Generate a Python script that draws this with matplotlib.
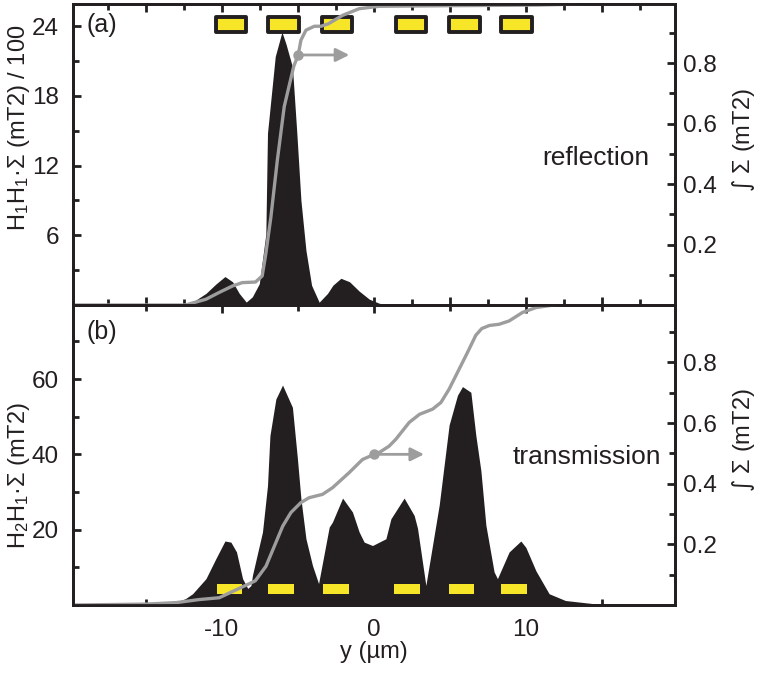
import matplotlib
matplotlib.use('Agg')
import matplotlib.pyplot as plt
from matplotlib.ticker import MultipleLocator, FixedLocator, NullFormatter

plt.rcParams['font.family'] = ['Liberation Sans', 'DejaVu Sans']
plt.rcParams['mathtext.fontset'] = 'custom'
plt.rcParams['mathtext.rm'] = 'Liberation Sans'
plt.rcParams['mathtext.it'] = 'Liberation Sans:italic'
plt.rcParams['mathtext.sf'] = 'DejaVu Sans'
plt.rcParams['mathtext.default'] = 'regular'
plt.rcParams['axes.unicode_minus'] = False

# (a) reflection: H1H1*Sigma / 100 and its integral
y_a = [-19.8, -14.8, -13.0, -12.1, -11.05, -10.4, -9.8, -9.3, -8.86, -8.4, -8.0,
       -7.54, -7.11, -7.0, -6.49, -6.05, -5.79, -5.36, -5.07, -4.8, -4.47, -4.1,
       -3.6, -3.05, -2.7, -2.17, -1.6, -0.97, -0.3, 0.35, 1.0, 19.8]
h_a = [0, 0, 0.03, 0.1, 1.0, 1.8, 2.45, 2.0, 1.0, 0.25, 0.7,
       1.83, 6.1, 14.8, 21.4, 23.5, 22.5, 20.5, 14.8, 9.0, 4.7, 1.7,
       0.24, 1.0, 1.7, 2.3, 2.0, 1.2, 0.5, 0.15, 0, 0]

yi_a = [-19.8, -12.4, -11.05, -10.2, -9.3, -8.66, -7.79, -7.35, -7.11, -6.78,
        -6.35, -5.9, -5.6, -5.27, -4.98, -4.8, -4.47, -3.92, -3.47, -3.0, -2.5,
        -2.06, -0.97, 0.35, 5.0, 10.7, 14.0, 19.8]
int_a = [0, 0, 0.019, 0.041, 0.063, 0.074, 0.076, 0.096, 0.17, 0.29,
         0.48, 0.656, 0.72, 0.79, 0.827, 0.876, 0.909, 0.922, 0.922, 0.93, 0.945,
         0.958, 0.98, 0.988, 0.99, 0.992, 0.996, 0.996]

# (b) transmission: H2H1*Sigma and its integral
y_b = [-19.8, -16.0, -14.8, -13.0, -12.4, -11.93, -11.05, -10.4, -9.8, -9.41,
       -9.04, -8.64, -8.3, -8.09, -7.99, -7.33, -7.0, -6.84, -6.45, -6.01, -5.36,
       -5.03, -4.8, -4.47, -4.04, -3.64, -2.94, -2.73, -2.06, -1.41, -0.97, -0.64,
       -0.09, 0.35, 0.79, 1.12, 1.99, 2.65, 2.87, 3.42, 4.3, 4.95, 5.5, 5.83,
       6.38, 6.71, 7.04, 7.37, 7.91, 8.13, 8.9, 9.67, 10.0, 10.66, 11.53, 12.6,
       14.6, 17.9, 19.8]
h_b = [0, 0.1, 0.3, 0.8, 1.7, 3.0, 7.0, 12.3, 17.0, 16.7,
       14.1, 7.0, 4.4, 5.2, 7.9, 19.4, 31.7, 45.0, 54.7, 58.4, 52.5,
       38.8, 28.2, 17.6, 10.5, 5.7, 20.7, 22.0, 28.4, 24.7, 19.4, 16.7,
       15.8, 16.7, 17.6, 22.9, 28.4, 23.8, 20.4, 5.2, 26.6, 47.8, 55.7, 58.0,
       56.5, 45.0, 35.7, 21.2, 8.8, 7.0, 14.1, 17.0, 15.3, 9.1, 3.0, 1.2,
       0.3, 0, 0]

yi_b = [-19.8, -15.0, -13.0, -11.5, -10.18, -8.3, -7.8, -7.1, -6.45, -6.0, -5.46,
        -4.8, -4.26, -3.38, -2.72, -1.62, -0.75, 0.02, 0.35, 1.0, 1.45, 2.32, 3.0,
        3.86, 4.41, 4.95, 5.61, 6.16, 6.71, 7.1, 7.6, 8.24, 8.9, 9.78, 10.66, 11.75,
        12.5, 19.8]
int_b = [0, 0.003, 0.008, 0.018, 0.024, 0.068, 0.08, 0.128, 0.206, 0.26, 0.305,
         0.338, 0.354, 0.365, 0.387, 0.437, 0.48, 0.497, 0.503, 0.524, 0.547, 0.602,
         0.629, 0.646, 0.668, 0.712, 0.778, 0.833, 0.89, 0.912, 0.922, 0.926, 0.937,
         0.965, 0.981, 0.989, 0.992, 0.994]

# magnet strips (centres in um)
strips_a = [-9.4, -5.96, -2.41, 2.46, 5.95, 9.38]
strips_b = [-9.5, -6.1, -2.5, 2.2, 5.77, 9.23]

# pointer dot -> arrow towards right axis
dot_a = (-4.98, 0.827)
arrow_end_a = -1.62
dot_b = (0.02, 0.497)
arrow_end_b = 3.3

BLACK = '#231f20'
GREY = '#9d9d9d'
YELLOW = '#f7e628'
FS = 17

fig = plt.figure(figsize=(7.57, 6.73), dpi=100)
ax1 = fig.add_axes([0.0964, 0.5468, 0.795, 0.447])
ax3 = fig.add_axes([0.0964, 0.1010, 0.795, 0.446])
ax2 = ax1.twinx()
ax4 = ax3.twinx()

ax1.fill_between(y_a, h_a, 0, color=BLACK, lw=0)
ax2.plot(yi_a, int_a, color=GREY, lw=2.4, solid_joinstyle='round')
ax2.plot(*dot_a, 'o', color=GREY, ms=6.5)
ax2.annotate('', xy=(arrow_end_a, dot_a[1]), xytext=dot_a,
             arrowprops=dict(arrowstyle='-|>', color=GREY, lw=2,
                             mutation_scale=20, shrinkA=0, shrinkB=0))
ax2.bar(strips_a, 1.3, bottom=23.5, width=2.0, color=YELLOW,
        edgecolor=BLACK, lw=2.8, joinstyle='round', transform=ax1.transData)

ax3.fill_between(y_b, h_b, 0, color=BLACK, lw=0)
ax4.plot(yi_b, int_b, color=GREY, lw=2.4, solid_joinstyle='round')
ax4.plot(*dot_b, 'o', color=GREY, ms=6.5)
ax4.annotate('', xy=(arrow_end_b, dot_b[1]), xytext=dot_b,
             arrowprops=dict(arrowstyle='-|>', color=GREY, lw=2,
                             mutation_scale=20, shrinkA=0, shrinkB=0))
ax4.bar(strips_b, 2.7, bottom=3.0, width=1.7, color=YELLOW, lw=0,
        transform=ax3.transData)

for ax in (ax1, ax2, ax3, ax4):
    ax.set_xlim(-19.8, 19.8)
    for s in ax.spines.values():
        s.set_linewidth(2)
        s.set_color(BLACK)

ax1.set_ylim(0, 25.9)
ax2.set_ylim(0, 0.995)
ax3.set_ylim(0, 79.7)
ax4.set_ylim(0, 0.99)

ax1.yaxis.set_major_locator(FixedLocator([6, 12, 18, 24]))
ax1.yaxis.set_minor_locator(FixedLocator([3, 9, 15, 21]))
ax3.yaxis.set_major_locator(FixedLocator([20, 40, 60]))
ax3.yaxis.set_minor_locator(FixedLocator([10, 30, 50, 70]))
for ax in (ax2, ax4):
    ax.yaxis.set_major_locator(FixedLocator([0.2, 0.4, 0.6, 0.8]))
    ax.yaxis.set_minor_locator(FixedLocator([0.1, 0.3, 0.5, 0.7, 0.9]))
ax1.xaxis.set_major_locator(MultipleLocator(5))
ax1.xaxis.set_minor_locator(MultipleLocator(2.5))
ax1.xaxis.set_major_formatter(NullFormatter())
ax3.xaxis.set_major_locator(MultipleLocator(10))
ax3.xaxis.set_minor_locator(MultipleLocator(5))

for ax in (ax1, ax3):
    ax.tick_params(which='both', direction='in', top=True, bottom=True,
                   left=True, right=False, width=2, color=BLACK,
                   labelsize=17.5, labelcolor=BLACK)
    ax.tick_params(which='major', length=6)
    ax.tick_params(which='minor', length=4)
    ax.tick_params(axis='y', pad=10)
    ax.tick_params(axis='x', pad=10)
for ax in (ax2, ax4):
    ax.tick_params(which='both', direction='in', width=2, color=BLACK,
                   labelsize=17.5, labelcolor=BLACK, pad=6)
    ax.tick_params(which='major', length=6)
    ax.tick_params(which='minor', length=4)
    ax.tick_params(axis='x', which='both', bottom=False, top=False)

ax1.set_ylabel('H$_1$H$_1$·Σ (mT2) / 100', fontsize=FS, color=BLACK)
ax1.yaxis.set_label_coords(-0.068, 0.59)
ax3.set_ylabel('H$_2$H$_1$·Σ (mT2)', fontsize=FS, color=BLACK)
ax3.yaxis.set_label_coords(-0.068, 0.433)
ax2.set_ylabel('$\\mathsf{\\int}$ Σ (mT2)', fontsize=FS, color=BLACK)
ax2.yaxis.set_label_coords(1.091, 0.548)
ax4.set_ylabel('$\\mathsf{\\int}$ Σ (mT2)', fontsize=FS, color=BLACK)
ax4.yaxis.set_label_coords(1.091, 0.55)
ax3.set_xlabel('y (µm)', fontsize=FS, color=BLACK, labelpad=0)

ax1.text(0.023, 0.93, '(a)', transform=ax1.transAxes, fontsize=18,
         va='center', ha='left', color=BLACK)
ax3.text(0.023, 0.91, '(b)', transform=ax3.transAxes, fontsize=18,
         va='center', ha='left', color=BLACK)
ax1.text(0.958, 0.49, 'reflection', transform=ax1.transAxes, fontsize=19,
         va='center', ha='right', color=BLACK)
ax3.text(0.978, 0.493, 'transmission', transform=ax3.transAxes, fontsize=19,
         va='center', ha='right', color=BLACK)

fig.savefig('out.png', dpi=100)
